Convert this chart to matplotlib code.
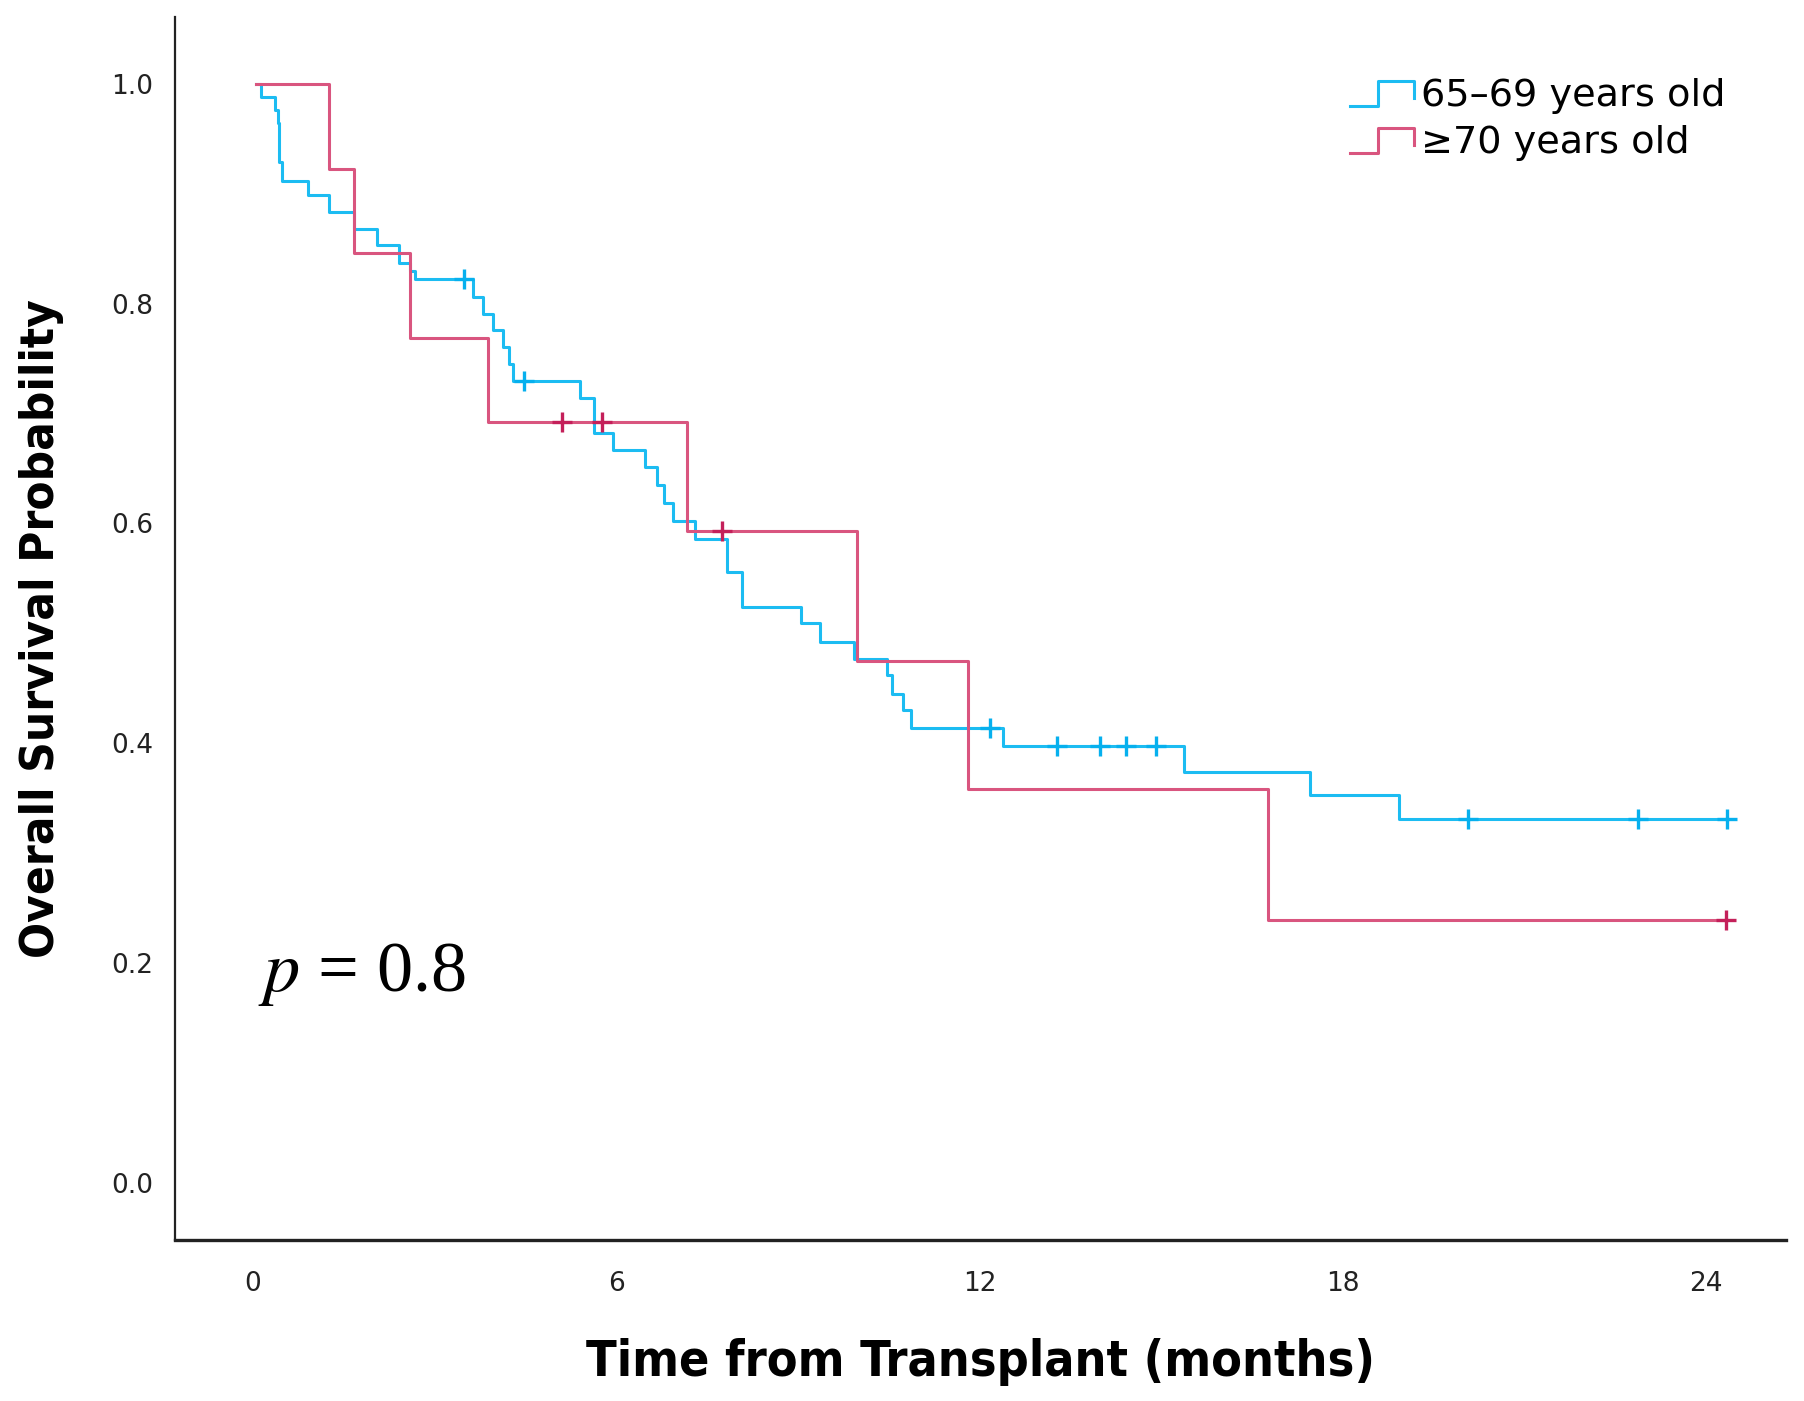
import matplotlib
matplotlib.use("Agg")
import matplotlib.pyplot as plt
from matplotlib.lines import Line2D
from matplotlib.legend_handler import HandlerBase

# Kaplan-Meier curves (months, survival after each step)
young_label = "65\u201369 years old"
young_start, young_end = 0.05, 24.35
young_t = [0.13, 0.36, 0.41, 0.43, 0.47, 0.90, 1.26, 1.67, 2.05, 2.41, 2.60, 2.68,
           3.64, 3.80, 3.96, 4.12, 4.22, 4.30, 5.40, 5.63, 5.95, 6.48, 6.68, 6.78,
           6.93, 7.30, 7.82, 8.07, 9.05, 9.36, 9.93, 10.47, 10.55, 10.73, 10.87,
           12.38, 15.38, 17.45, 18.93]
young_s = [0.988, 0.976, 0.964, 0.929, 0.912, 0.899, 0.883, 0.868, 0.853, 0.837, 0.830, 0.822,
           0.806, 0.791, 0.776, 0.761, 0.745, 0.730, 0.714, 0.682, 0.667, 0.651, 0.635, 0.619,
           0.602, 0.586, 0.556, 0.524, 0.509, 0.492, 0.477, 0.462, 0.445, 0.430, 0.414,
           0.397, 0.374, 0.353, 0.331]
young_cens_t = [3.49, 4.47, 12.18, 13.28, 13.99, 14.42, 14.91, 20.07, 22.87, 24.35]
young_cens_s = [0.822, 0.730, 0.414, 0.397, 0.397, 0.397, 0.397, 0.331, 0.331, 0.331]

old_label = "\u226570 years old"
old_start, old_end = 0.05, 24.33
old_t = [1.25, 1.66, 2.59, 3.88, 7.17, 9.98, 11.81, 16.77]
old_s = [0.923, 0.846, 0.769, 0.692, 0.593, 0.475, 0.358, 0.239]
old_cens_t = [5.11, 5.76, 7.75, 24.33]
old_cens_s = [0.692, 0.692, 0.593, 0.239]

blue = "#1cbcf2"
blue_mark = "#06b0ee"
red = "#d9557f"
red_mark = "#c4205a"


class StepHandler(HandlerBase):
    # legend key drawn as a small survival step, like the SPSS output
    def create_artists(self, legend, orig_handle, xdescent, ydescent,
                       width, height, fontsize, trans):
        x0, y0, h = -xdescent, -ydescent, height
        xs = [x0, x0 + 0.45 * width, x0 + 0.45 * width, x0 + width, x0 + width]
        ys = [y0 + 0.0 * h, y0 + 0.0 * h, y0 + 0.95 * h, y0 + 0.95 * h, y0 + 0.3 * h]
        ln = Line2D(xs, ys, color=orig_handle.get_color(), lw=orig_handle.get_linewidth())
        ln.set_transform(trans)
        return [ln]


fig = plt.figure(figsize=(18.04, 14.01), dpi=100)
ax = fig.add_axes([0.097, 0.1148, 0.893, 0.8729])

h1, = ax.step([young_start] + young_t + [young_end], [1.0] + young_s + [young_s[-1]],
              where="post", color=blue, lw=2.2)
h2, = ax.step([old_start] + old_t + [old_end], [1.0] + old_s + [old_s[-1]],
              where="post", color=red, lw=2.2)
ax.plot(young_cens_t, young_cens_s, "+", color=blue_mark, ms=15, mew=2.4, ls="none")
ax.plot(old_cens_t, old_cens_s, "+", color=red_mark, ms=15, mew=2.4, ls="none")

ax.set_xlim(-1.29, 25.32)
ax.set_ylim(-0.0524, 1.0607)
ax.set_xticks([0, 6, 12, 18, 24])
ax.set_yticks([0.0, 0.2, 0.4, 0.6, 0.8, 1.0])
ax.set_yticklabels(["0.0", "0.2", "0.4", "0.6", "0.8", "1.0"])
ax.tick_params(length=0, labelsize=19, colors="#222222")
ax.tick_params(axis="x", pad=22)
ax.tick_params(axis="y", pad=16)
for side in ["top", "right"]:
    ax.spines[side].set_visible(False)
ax.spines["left"].set_linewidth(1.6)
ax.spines["bottom"].set_linewidth(2.4)
ax.spines["left"].set_color("#222222")
ax.spines["bottom"].set_color("#222222")

ax.set_xlabel("Time from Transplant (months)", fontsize=36, fontweight="bold",
              fontstretch="condensed", labelpad=30)
ax.set_ylabel("Overall Survival Probability", fontsize=34, fontweight="bold",
              fontstretch="condensed", labelpad=34)

plt.rcParams["mathtext.fontset"] = "stix"
ax.text(0.08, 0.174, r"$p$ = 0.8", fontsize=52, va="baseline", ha="left",
        family="Liberation Serif")

fig.legend([h1, h2], [young_label, old_label], handler_map={Line2D: StepHandler()},
           loc="upper left", bbox_to_anchor=(0.7375, 0.958), frameon=False,
           fontsize=27.5, handlelength=1.68, handletextpad=0.2, labelspacing=0.3,
           borderpad=0)

fig.savefig("out.png", dpi=100)
